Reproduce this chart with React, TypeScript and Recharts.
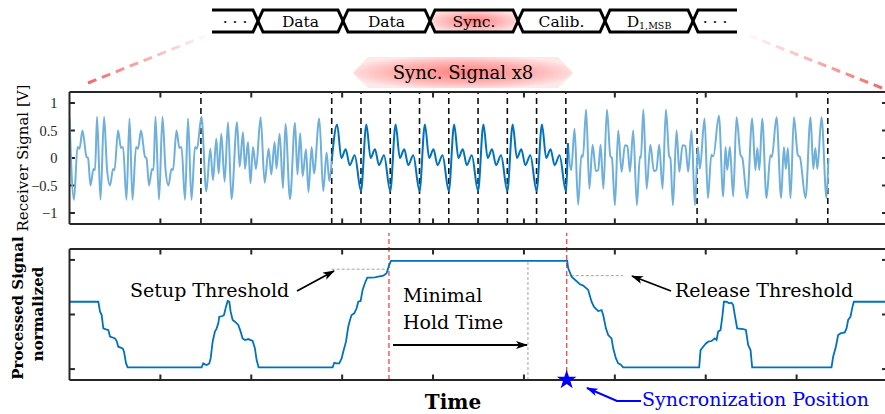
import React from 'react';
import { LineChart, ComposedChart, Line, XAxis, YAxis, ZAxis, ReferenceLine, Scatter } from 'recharts';

// time axis: 100 units between two (unlabelled) ticks
const xTicks = [0, 100, 200, 300, 400, 500, 600, 700, 800, 900];
const receiverTicks = [-1, -0.5, 0, 0.5, 1];
const processedTicks = [0, 0.5, 1];

// receiver signal, [time, volt] at the turning points
const symbolA = [
  [0, 0.72], [4.9, -0.76], [8.8, 0.2], [11, 0.17], [14.3, 0.5], [18.7, 0.02], [20.4, 0.0],
  [23.1, -0.5], [26.4, -0.2], [28.1, -0.22], [30.3, 0.75], [34.1, -0.76], [38, 0.75],
  [41.3, -0.2], [44.6, -0.5], [47.9, -0.2], [49.5, -0.22], [53.4, 0.5], [56.7, 0.18],
  [58.9, 0.2], [62.7, -0.76], [66, 0.72], [69.3, -0.76], [73.2, 0.2], [75.4, 0.17],
  [78.7, 0.5], [83.1, 0.02], [84.7, 0.0], [87.5, -0.5], [90.8, -0.2], [92.4, -0.22],
  [94.6, 0.75], [98.5, -0.76], [102.3, 0.75], [105.6, -0.2], [108.9, -0.5], [112.2, -0.2],
  [113.9, -0.22], [117.7, 0.5], [121, 0.18], [123.2, 0.2], [127.1, -0.76], [130.4, 0.72],
  [134.2, -0.76], [138.1, 0.2], [140.3, 0.17], [145.2, 0.75],
];
const symbolB = [
  [150.5, -0.61], [154.9, 0.17], [157.9, -0.4], [161.5, 0.35], [164.1, -0.28], [167, 0.44],
  [170.7, -0.43], [174.4, 0.65], [178.2, -0.75], [184.3, 0.65], [187.2, -0.16], [190.9, 0.47],
  [193.1, -0.2], [196.4, 0.29], [199.1, -0.46], [201.9, 0.2], [205.2, -0.2], [210.3, 0.74],
  [214.7, -0.45], [219.1, 0.17], [222, -0.3], [225.7, 0.29], [227.7, -0.19], [231.2, 0.44],
  [234.9, -0.55], [237.6, 0.62], [242.6, -0.75], [248.1, 0.64], [250.8, -0.3], [253.8, 0.45],
  [256.5, -0.33], [260.2, 0.16], [262.9, -0.62], [266.4, 0.2], [269, -0.28], [274.8, 0.72],
  [279.2, -0.6], [282.9, 0.1], [285.8, -0.42], [288.5, -0.05],
];
// one sync symbol (offset from its start, volt), sent 8 times
const syncStarts = [288.5, 320.7, 352.9, 385.1, 417.3, 449.5, 481.7, 513.9];
const syncOffsets = [0, 5.9, 10.6, 15.4, 19.8, 25.3];
const syncValues = [-0.6, 0.61, 0.0, 0.16, -0.13, 0.05];
const syncEnd = [[546.1, -0.6], [548.4, 0.27]];
const symbolC = [
  [548.4, 0.27], [552, -0.22], [555.7, 0.53], [559.6, -0.85], [563.2, 0.05], [564.9, 0.02],
  [568.4, 0.88], [572, -0.56], [575.5, 0.24], [579.2, -0.24], [581.7, -0.22], [584.3, 0.24],
  [587.4, -0.56], [591.3, 0.88], [595.1, 0.03], [596.8, 0.0], [600.1, -0.86], [603.7, 0.5],
  [607.4, -0.25], [611.1, 0.23], [613.8, 0.22], [616.6, -0.25], [620.2, 0.5], [624.3, -0.86],
  [627.6, 0.03], [628.7, 0.0], [631.4, 0.88], [635, -0.56], [639.1, 0.24], [643, -0.24],
  [645.7, -0.22], [648.8, 0.24], [652.5, -0.56], [656.2, 0.88], [659.8, 0.03], [661.1, 0.0],
  [663.9, -0.86], [667.9, 0.5], [671, -0.25], [674.5, 0.23], [677.6, 0.22], [680.7, -0.25],
  [684.4, 0.5], [688.1, -0.86], [691.4, 0.2],
];
const symbolD = [
  [693.6, -0.2], [698.7, 0.72], [702.4, -0.73], [706.2, 0.06], [708.4, 0.03], [714.5, 0.77],
  [719.2, -0.7], [721.8, 0.2], [723.6, -0.22], [726.6, 0.2], [730.2, -0.7], [733.9, 0.74],
  [738.3, 0.05], [740.3, 0.0], [745.6, -0.73], [751.1, 0.72], [754.6, -0.22], [756.8, 0.18],
  [759, -0.22], [762.1, 0.72], [766.9, -0.73], [771.1, 0.05], [772.8, 0.02], [777.9, 0.74],
  [783, -0.73], [786, 0.2], [788.2, -0.2], [790.4, 0.18], [793.3, -0.73], [797, 0.74],
  [801.4, 0.05], [803.6, 0.02], [809.8, -0.73], [815.3, 0.74], [818.4, -0.2], [820.6, 0.18],
  [822.8, -0.2], [827.4, 0.74], [832.9, -0.73], [835, 0.0],
];
const symbolBounds = [144.6, 288.5, 546.1, 690.5, 834.3];

// processed signal (normalized)
const processed = [
  [0, 0.617], [31.7, 0.617], [33.6, 0.526], [35.4, 0.495], [37.2, 0.373], [40.2, 0.364],
  [42.7, 0.358], [44.6, 0.297], [50.1, 0.281], [51.9, 0.257], [53.7, 0.205], [58.5, 0.19],
  [60, 0.159], [62.2, 0.052], [64, 0.015], [145.4, 0.015], [147.2, 0.052], [149.1, 0.043],
  [150.9, 0.037], [153.8, 0.052], [155.3, 0.098], [157.5, 0.251], [160, 0.343], [161.9, 0.373],
  [163.7, 0.419], [164.8, 0.48], [168.5, 0.486], [170, 0.495], [172.2, 0.572], [174, 0.624],
  [175.8, 0.617], [177.3, 0.526], [179.5, 0.45], [182, 0.434], [185.7, 0.404], [188.3, 0.343],
  [190.5, 0.281], [193, 0.266], [196.7, 0.275], [201.5, 0.257], [204, 0.19], [205.9, 0.083],
  [208.1, 0.015], [289.5, 0.015], [291.3, 0.058], [293.9, 0.052], [296.8, 0.052], [299.4, 0.098],
  [301.2, 0.159], [304.2, 0.251], [306.7, 0.388], [308.6, 0.45], [310.4, 0.495], [313.3, 0.511],
  [315.9, 0.557], [317.7, 0.617], [320.3, 0.624], [322.5, 0.725], [325, 0.786], [327.6, 0.838],
  [332.4, 0.838], [336, 0.841], [339.7, 0.847], [345.2, 0.856], [348.9, 0.878], [351.8, 0.954],
  [353.7, 0.991], [547.6, 0.991], [548.7, 0.923], [552.4, 0.847], [561.6, 0.777], [565.2, 0.765],
  [570.7, 0.725], [574.4, 0.617], [577, 0.572], [581.7, 0.532], [585.4, 0.541], [587.2, 0.495],
  [590.2, 0.373], [592.7, 0.312], [596.4, 0.281], [598.2, 0.19], [601.2, 0.098], [603.7, 0.052],
  [606.3, 0.043], [609.2, 0.015], [692.8, 0.015], [694.3, 0.174], [697.2, 0.205], [700.2, 0.235],
  [702.7, 0.251], [706.4, 0.257], [710, 0.281], [711.9, 0.266], [713.7, 0.343], [716.3, 0.358],
  [718.5, 0.495], [720, 0.617], [722.9, 0.617], [725.8, 0.602], [728.4, 0.608], [730.2, 0.587],
  [732, 0.495], [734.6, 0.373], [741.2, 0.367], [744.2, 0.358], [746.7, 0.22], [749.3, 0.174],
  [751.1, 0.015], [838.4, 0.015], [840.2, 0.113], [843.2, 0.205], [845.7, 0.312], [848.3, 0.327],
  [853, 0.336], [854.9, 0.373], [856.7, 0.45], [859.3, 0.48], [861.5, 0.572], [863, 0.617],
  [900, 0.617],
];
const setupThreshold = 0.915;
const releaseThreshold = 0.856;
const syncDetected = [351.5, 547]; // red markers
const holdEnd = 504.4;
const syncPosition = [{ t: 547, v: -0.1 }];

const pts = (a: number[][]) => a.map(([t, v]) => ({ t, v }));
const lightLeft = pts([...symbolA, ...symbolB]);
const lightRight = pts([...symbolC, ...symbolD]);
const syncData = pts([
  ...syncStarts.flatMap((s, k) => syncOffsets.map((o, i) => [s + o, k === 0 && i === 0 ? -0.05 : syncValues[i]])),
  ...syncEnd,
]);
const processedData = pts(processed);

const AX = '#262626';
const SERIF = "'DejaVu Serif', serif";
const minus = (v: number) => (v < 0 ? `\u2212${Math.abs(v)}` : `${v}`);

// box, axes and inward ticks of one panel
const frame = (ticks: number[], domain: number[], labels: boolean) => {
  const [y0, y1] = domain;
  const dy = (y1 - y0) * 0.042; // ~5.5px tick length
  const dx = 6;
  const seg = (k: string, a: number[], b: number[]) => (
    <ReferenceLine key={k} xAxisId="b" yAxisId="l" ifOverflow="visible" stroke={AX} strokeWidth={2}
      segment={[{ x: a[0], y: a[1] }, { x: b[0], y: b[1] }]} />
  );
  return [
    <XAxis key="xb" xAxisId="b" type="number" dataKey="t" domain={[0, 900]} ticks={xTicks} interval={0}
      tick={false} tickLine={false} height={2} stroke={AX} strokeWidth={2} allowDataOverflow />,
    <XAxis key="xt" xAxisId="t" orientation="top" type="number" dataKey="t" domain={[0, 900]} ticks={xTicks}
      interval={0} tick={false} tickLine={false} height={2} stroke={AX} strokeWidth={2} allowDataOverflow />,
    <YAxis key="yl" yAxisId="l" type="number" domain={domain} ticks={ticks} interval={0} width={60}
      tickSize={-5} tickMargin={17} tickLine={false} stroke={AX} strokeWidth={2} tickFormatter={minus}
      tick={labels ? { fontSize: 14.5, fontFamily: "'Liberation Serif', serif", fill: AX, stroke: 'none' } : false} />,
    <YAxis key="yr" yAxisId="r" orientation="right" type="number" domain={domain} ticks={ticks} interval={0}
      width={10} tickLine={false} tick={false} stroke={AX} strokeWidth={2} />,
    ...xTicks.slice(1, -1).flatMap((x) => [
      seg(`tb${x}`, [x, y0], [x, y0 + dy]),
      seg(`tt${x}`, [x, y1], [x, y1 - dy]),
    ]),
    ...ticks.flatMap((y) => [
      seg(`tl${y}`, [0, y], [dx, y]),
      seg(`tr${y}`, [900, y], [900 - dx, y]),
    ]),
  ];
};

const hx = [212, 258, 343, 430, 518, 605, 693, 737];
const hLabels = ['\u00b7 \u00b7 \u00b7', 'Data', 'Data', 'Sync.', 'Calib.', 'D', '\u00b7 \u00b7 \u00b7'];

function Overlay() {
  const boxes = hx.slice(0, -1).map((a, i) => {
    const b = hx[i + 1];
    const first = i === 0;
    const last = i === hx.length - 2;
    const d = first
      ? `M${a},10 L${b - 5},10 L${b},21 L${b - 5},32 L${a},32`
      : last
      ? `M${b},10 L${a + 5},10 L${a},21 L${a + 5},32 L${b},32`
      : `M${a + 5},10 L${b - 5},10 L${b},21 L${b - 5},32 L${a + 5},32 L${a},21 Z`;
    return (
      <path key={i} d={d} fill={hLabels[i] === 'Sync.' ? 'url(#pinkBox)' : 'none'} stroke="#000" strokeWidth={3}
        strokeLinejoin="miter" />
    );
  });
  return (
    <svg width={885} height={414} style={{ position: 'absolute', left: 0, top: 0, pointerEvents: 'none' }}>
      <defs>
        <radialGradient id="pinkBox" cx="50%" cy="50%" r="55%">
          <stop offset="0%" stopColor="#ff7d7d" />
          <stop offset="100%" stopColor="#ffe2e2" />
        </radialGradient>
        <radialGradient id="pinkBanner" cx="50%" cy="50%" r="55%">
          <stop offset="0%" stopColor="#ff8080" />
          <stop offset="60%" stopColor="#ffb4b4" />
          <stop offset="100%" stopColor="#ffe8e8" />
        </radialGradient>
        <linearGradient id="fadeL" gradientUnits="userSpaceOnUse" x1={88} y1={83} x2={205} y2={36}>
          <stop offset="0%" stopColor="#f06a6a" stopOpacity={1} />
          <stop offset="100%" stopColor="#f06a6a" stopOpacity={0.05} />
        </linearGradient>
        <linearGradient id="fadeR" gradientUnits="userSpaceOnUse" x1={882} y1={88} x2={750} y2={36}>
          <stop offset="0%" stopColor="#f06a6a" stopOpacity={1} />
          <stop offset="100%" stopColor="#f06a6a" stopOpacity={0.05} />
        </linearGradient>
        <marker id="ahK" viewBox="0 0 12 8" refX={11} refY={4} markerWidth={12} markerHeight={8}
          markerUnits="userSpaceOnUse" orient="auto">
          <path d="M0,0 L12,4 L0,8 L3,4 z" fill="#000" />
        </marker>
        <marker id="ahB" viewBox="0 0 12 8" refX={11} refY={4} markerWidth={12} markerHeight={8}
          markerUnits="userSpaceOnUse" orient="auto">
          <path d="M0,0 L12,4 L0,8 L3,4 z" fill="#0000ff" />
        </marker>
      </defs>

      {boxes}
      {hLabels.map((l, i) => (
        <text key={i} x={(hx[i] + hx[i + 1]) / 2} y={27} textAnchor="middle" fontFamily={SERIF} fontSize={15.5}
          fill="#000">
          {l}
          {l === 'D' && <tspan fontSize={9.5} dy={2}>1,MSB</tspan>}
        </text>
      ))}

      <line x1={88} y1={83} x2={205} y2={36} stroke="url(#fadeL)" strokeWidth={3} strokeDasharray="9 6" />
      <line x1={882} y1={88} x2={750} y2={36} stroke="url(#fadeR)" strokeWidth={3} strokeDasharray="9 6" />

      <path d="M353,73 L368,57 L558,57 L573,73 L558,88 L368,88 Z" fill="url(#pinkBanner)" />
      <text x={463} y={79} textAnchor="middle" fontFamily={SERIF} fontSize={18} fill="#000">Sync. Signal x8</text>

      <text transform="translate(28,158) rotate(-90)" textAnchor="middle" fontFamily={SERIF} fontSize={15}
        fill="#000">Receiver Signal [V]</text>
      <text transform="translate(23,308) rotate(-90)" textAnchor="middle" fontFamily={SERIF} fontSize={15}
        fontWeight="bold" fill="#000">Processed Signal</text>
      <text transform="translate(43,314) rotate(-90)" textAnchor="middle" fontFamily={SERIF} fontSize={15}
        fontWeight="bold" fill="#000">normalized</text>
      <text x={453} y={409} textAnchor="middle" fontFamily={SERIF} fontSize={20} fontWeight="bold" fill="#000">Time</text>

      <text x={130} y={297} fontFamily={SERIF} fontSize={19} fill="#000">Setup Threshold</text>
      <line x1={297} y1={291} x2={334} y2={271} stroke="#000" strokeWidth={1.8} markerEnd="url(#ahK)" />
      <text x={675} y={297} fontFamily={SERIF} fontSize={19} fill="#000">Release Threshold</text>
      <line x1={671} y1={291} x2={632} y2={276} stroke="#000" strokeWidth={1.8} markerEnd="url(#ahK)" />
      <text x={403} y={302} fontFamily={SERIF} fontSize={19} fill="#000">Minimal</text>
      <text x={403} y={329} fontFamily={SERIF} fontSize={19} fill="#000">Hold Time</text>
      <line x1={393} y1={345} x2={527} y2={345} stroke="#000" strokeWidth={1.8} markerEnd="url(#ahK)" />
      <text x={642} y={406} fontFamily={SERIF} fontSize={19} fill="#0000ff">Syncronization Position</text>
      <polyline points="641,401 617,401 587,388" fill="none" stroke="#0000ff" strokeWidth={2}
        markerEnd="url(#ahB)" />
    </svg>
  );
}

export default function App() {
  return (
    <div style={{ position: 'fixed', left: 0, top: 0, width: 885, height: 414, overflow: 'hidden', background: '#fff' }}>
      <div style={{ position: 'absolute', left: 0, top: 0 }}>
        <LineChart width={900} height={228} margin={{ top: 90, right: 2.5, bottom: 2, left: 9.5 }}>
          {frame(receiverTicks, [-1.2, 1.2], true)}
          {symbolBounds.concat(syncStarts.slice(1)).map((x) => (
            <ReferenceLine key={x} x={x} xAxisId="b" yAxisId="l" stroke="#111" strokeWidth={1.6} strokeDasharray="6 4" />
          ))}
          <Line data={lightLeft} dataKey="v" xAxisId="b" yAxisId="l" type="monotone" stroke="#6fb0db"
            strokeWidth={2} dot={false} isAnimationActive={false} />
          <Line data={lightRight} dataKey="v" xAxisId="b" yAxisId="l" type="monotone" stroke="#6fb0db"
            strokeWidth={2} dot={false} isAnimationActive={false} />
          <Line data={syncData} dataKey="v" xAxisId="b" yAxisId="l" type="monotone" stroke="#0072bd"
            strokeWidth={2} dot={false} isAnimationActive={false} />
        </LineChart>
      </div>
      <div style={{ position: 'absolute', left: 0, top: 0 }}>
        <ComposedChart width={900} height={414} margin={{ top: 247, right: 2.5, bottom: 32, left: 9.5 }}>
          {frame(processedTicks, [-0.1, 1.1], false)}
          <ZAxis range={[120, 120]} />
          <ReferenceLine xAxisId="b" yAxisId="l" ifOverflow="visible" stroke="#8c8c8c" strokeWidth={0.8}
            strokeDasharray="3 2" segment={[{ x: 288.4, y: setupThreshold }, { x: 350.4, y: setupThreshold }]} />
          <ReferenceLine xAxisId="b" yAxisId="l" ifOverflow="visible" stroke="#8c8c8c" strokeWidth={0.8}
            strokeDasharray="3 2" segment={[{ x: 546, y: releaseThreshold }, { x: 608.9, y: releaseThreshold }]} />
          <ReferenceLine xAxisId="b" yAxisId="l" ifOverflow="visible" stroke="#8c8c8c" strokeWidth={0.8}
            strokeDasharray="3 2" segment={[{ x: holdEnd, y: -0.1 }, { x: holdEnd, y: 0.991 }]} />
          {syncDetected.map((x) => (
            <ReferenceLine key={x} xAxisId="b" yAxisId="l" ifOverflow="visible" stroke="#ff4d4d" strokeWidth={1.4}
              strokeDasharray="5 3" segment={[{ x, y: -0.1 }, { x, y: 1.25 }]} />
          ))}
          <Line data={processedData} dataKey="v" xAxisId="b" yAxisId="l" type="linear" stroke="#0072bd"
            strokeWidth={1.8} dot={false} isAnimationActive={false} />
          <Scatter data={syncPosition} dataKey="v" xAxisId="b" yAxisId="l" shape="star" fill="#0000ff"
            isAnimationActive={false} />
        </ComposedChart>
      </div>
      <Overlay />
    </div>
  );
}
